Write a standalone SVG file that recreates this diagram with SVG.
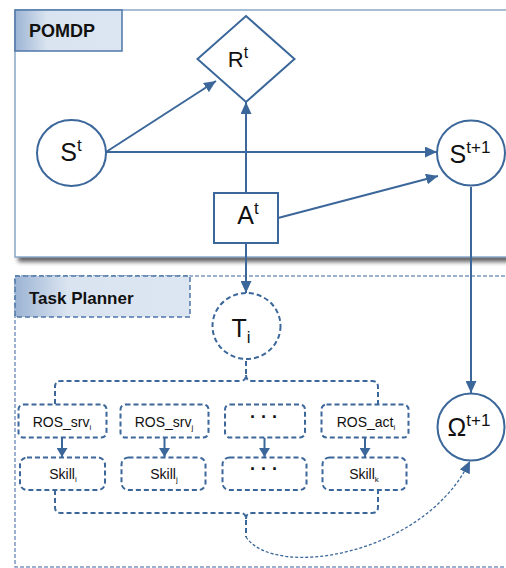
<svg xmlns="http://www.w3.org/2000/svg" width="506" height="568" viewBox="0 0 506 568">
<style>
.t{font-family:"Liberation Sans",Arial,sans-serif;fill:#111}
.main{font-size:25px}
.sm{font-size:14px}
.dots{font-size:18px;font-weight:bold}
.ln{stroke:#3b679a;stroke-width:2;fill:none}
.dsh{stroke:#3b679a;stroke-width:2;fill:none;stroke-dasharray:5 3}
.nd{stroke:#3b679a;stroke-width:2;fill:#fff}
.ndd{stroke:#3b679a;stroke-width:2;fill:#fff;stroke-dasharray:5 3}
</style>
<defs>
<marker id="ah" markerUnits="userSpaceOnUse" markerWidth="13" markerHeight="11" refX="12" refY="5.5" orient="auto">
<path d="M0,0 L12,5.5 L0,11 z" fill="#3b679a"/>
</marker>
<marker id="ahs" markerUnits="userSpaceOnUse" markerWidth="11" markerHeight="11" refX="9" refY="5.5" orient="auto">
<path d="M0,0 L9,5.5 L0,11 z" fill="#3b679a"/>
</marker>
<linearGradient id="lg" x1="0" y1="0" x2="1" y2="0">
<stop offset="0" stop-color="#9cb4d4"/>
<stop offset="0.3" stop-color="#dae4f0"/>
<stop offset="1" stop-color="#dce6f2"/>
</linearGradient>
<filter id="sh" x="-5%" y="-5%" width="110%" height="115%">
<feGaussianBlur stdDeviation="2"/>
</filter>
</defs>

<g id="pomdp-frame">
<rect x="18" y="14" width="495" height="248" fill="#333" opacity="0.75" filter="url(#sh)"/>
<rect x="15" y="10" width="495" height="247" fill="#fff" stroke="#8aa6c8" stroke-width="1.5"/>
<rect x="15" y="10" width="107" height="41" fill="url(#lg)" stroke="#4f77a8" stroke-width="1.5"/>
<text class="t" x="29" y="37" font-size="18" font-weight="bold">POMDP</text>
</g>

<g id="planner-frame">
<rect x="15" y="276" width="495" height="291" fill="none" stroke="#7b98c0" stroke-width="1.5" stroke-dasharray="4 2"/>
<rect x="15" y="276" width="175" height="41" fill="url(#lg)" stroke="#4f77a8" stroke-width="1.5" stroke-dasharray="5 3"/>
<text class="t" x="29" y="304" font-size="17" font-weight="bold">Task Planner</text>
</g>

<g id="connectors">
<line class="ln" x1="106" y1="152" x2="216" y2="81" marker-end="url(#ah)"/>
<line class="ln" x1="106" y1="152" x2="437" y2="152" marker-end="url(#ah)"/>
<line class="ln" x1="246" y1="193" x2="246" y2="102" marker-end="url(#ah)"/>
<line class="ln" x1="278" y1="218" x2="438" y2="176" marker-end="url(#ah)"/>
<line class="ln" x1="246" y1="243" x2="246" y2="293" marker-end="url(#ah)"/>
<line class="ln" x1="471" y1="187" x2="471" y2="393" marker-end="url(#ah)"/>
<path class="dsh" d="M55,404 L55,387 Q55,381 61,381 L240,381 Q246,381 246,375 L246,359 M246,375 Q246,381 252,381 L372,381 Q378,381 378,387 L378,404"/>
<path class="dsh" d="M55,490 L55,507 Q55,513 61,513 L240,513 Q246,513 246,519 L246,537 M246,519 Q246,513 252,513 L372,513 Q378,513 378,507 L378,490"/>
<path d="M246,537 C275,580 425,555 470,461" fill="none" stroke="#3b679a" stroke-width="1.3" stroke-dasharray="3 2" marker-end="url(#ah)"/>
<line class="ln" x1="62" y1="437.5" x2="62" y2="457" marker-end="url(#ahs)"/>
<line class="ln" x1="164.5" y1="437.5" x2="164.5" y2="457" marker-end="url(#ahs)"/>
<line class="ln" x1="264.5" y1="437.5" x2="264.5" y2="457" marker-end="url(#ahs)"/>
<line class="ln" x1="365" y1="437.5" x2="365" y2="457" marker-end="url(#ahs)"/>
</g>

<g id="R">
<path class="nd" d="M246,16 L294.5,59 L246,102 L197.5,59 z"/>
<text class="t" x="238" y="67" font-size="22" text-anchor="middle">R<tspan font-size="16" dy="-9">t</tspan></text>
</g>
<g id="St">
<ellipse class="nd" cx="71.5" cy="153" rx="34.5" ry="33"/>
<text class="t main" x="71" y="161" text-anchor="middle">S<tspan font-size="17" dy="-10">t</tspan></text>
</g>
<g id="St1">
<ellipse class="nd" cx="471" cy="153" rx="34" ry="32.5"/>
<text class="t main" x="470" y="163" text-anchor="middle">S<tspan font-size="17" dy="-10">t+1</tspan></text>
</g>
<g id="At">
<rect class="nd" x="214" y="193" width="64" height="50"/>
<text class="t main" x="248" y="224" text-anchor="middle">A<tspan font-size="17" dy="-10">t</tspan></text>
</g>
<g id="Ti">
<ellipse class="ndd" cx="246.5" cy="326" rx="34" ry="33"/>
<text class="t main" x="241" y="337" text-anchor="middle">T<tspan font-size="17" dy="6">i</tspan></text>
</g>
<g id="Omega">
<circle class="nd" cx="471" cy="427" r="33.5"/>
<text class="t main" x="469" y="436" text-anchor="middle">Ω<tspan font-size="17" dy="-10">t+1</tspan></text>
</g>

<g id="ros1">
<rect class="ndd" x="18.5" y="404.5" width="88" height="33" rx="5"/>
<text class="t sm" x="62" y="427" text-anchor="middle">ROS_srv<tspan font-size="8" dy="3">i</tspan></text>
</g>
<g id="ros2">
<rect class="ndd" x="120.5" y="404.5" width="88" height="33" rx="5"/>
<text class="t sm" x="164" y="427" text-anchor="middle">ROS_srv<tspan font-size="8" dy="3">j</tspan></text>
</g>
<g id="ros3">
<rect class="ndd" x="225" y="404.5" width="80" height="33" rx="5"/>
<text class="t dots" x="264" y="423" text-anchor="middle">·  ·  ·</text>
</g>
<g id="ros4">
<rect class="ndd" x="321.5" y="404.5" width="87" height="33" rx="5"/>
<text class="t sm" x="366" y="427" text-anchor="middle">ROS_act<tspan font-size="8" dy="3">i</tspan></text>
</g>

<g id="skill1">
<rect class="ndd" x="20" y="457.5" width="85" height="32.5" rx="7"/>
<text class="t sm" x="63" y="479" text-anchor="middle">Skill<tspan font-size="8" dy="3">i</tspan></text>
</g>
<g id="skill2">
<rect class="ndd" x="121.5" y="457.5" width="84" height="32.5" rx="7"/>
<text class="t sm" x="164" y="479" text-anchor="middle">Skill<tspan font-size="8" dy="3">j</tspan></text>
</g>
<g id="skill3">
<rect class="ndd" x="222.5" y="457.5" width="84" height="32.5" rx="7"/>
<text class="t dots" x="264" y="475" text-anchor="middle">·  ·  ·</text>
</g>
<g id="skill4">
<rect class="ndd" x="322.5" y="457.5" width="84" height="32.5" rx="7"/>
<text class="t sm" x="364" y="479" text-anchor="middle">Skill<tspan font-size="8" dy="3">k</tspan></text>
</g>
</svg>
